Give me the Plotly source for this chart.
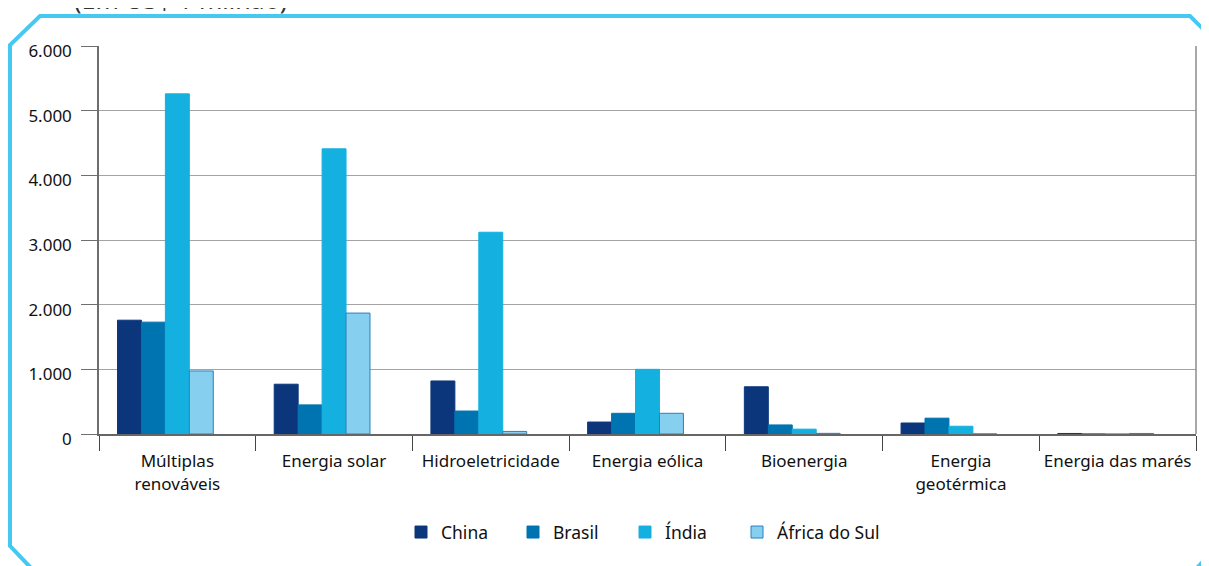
import plotly.graph_objects as go

# Data (Em US$ 1 milhão)
categories = ['Múltiplas<br>renováveis', 'Energia solar', 'Hidroeletricidade', 'Energia eólica',
              'Bioenergia', 'Energia<br>geotérmica', 'Energia das marés']
china = [1760, 770, 820, 185, 730, 170, 8]
brasil = [1730, 450, 355, 320, 140, 245, 0]
india = [5260, 4410, 3120, 1000, 75, 120, 0]
africa_sul = [975, 1870, 40, 320, 10, 0, 8]
y_ticks = [0, 1000, 2000, 3000, 4000, 5000, 6000]

# Layout config (pixels in the screenshot); the page body adds an 8px offset
OFF = 8
W, H = 1209 - OFF, 566 - OFF
L, R, T, B = 99, 1196, 46, 434
FRAME_COLOR = '#45c8f2'
FONT = 'Noto Sans'


def px(x, y):
    # screenshot pixel -> paper coords
    return (x - L) / (R - L), (B - y) / (B - T)


def path_from(points):
    parts = []
    for i, (x, y) in enumerate(points):
        xp, yp = px(x, y)
        parts.append(('M' if i == 0 else 'L') + f'{xp:.5f},{yp:.5f}')
    return ' '.join(parts)


fig = go.Figure()

series = [
    ('China', china, '#0b367c', '#0b367c'),
    ('Brasil', brasil, '#0073b1', '#0073b1'),
    ('Índia', india, '#14b1e0', '#14b1e0'),
    ('África do Sul', africa_sul, '#87cfee', '#2a80bf'),
]
for name, vals, col, lcol in series:
    fig.add_trace(go.Bar(
        x=categories, y=vals, name=name,
        marker=dict(color=col, line=dict(color=lcol, width=1)),
    ))

# empty fifth slot, like the original spreadsheet layout (also pads the legend)
fig.add_trace(go.Bar(x=categories, y=[None] * len(categories), name=' ',
                     marker=dict(color='rgba(0,0,0,0)', line=dict(width=0)),
                     hoverinfo='skip'))

leg_x, _ = px(401, 0)
fig.update_layout(
    width=W, height=H,
    margin=dict(l=L - OFF, r=W - (R - OFF), t=T - OFF, b=H - (B - OFF)),
    paper_bgcolor='white', plot_bgcolor='white',
    barmode='group', bargap=0.236, bargroupgap=0,
    separators=',.',
    font=dict(family=FONT, size=15, color='#111'),
    legend=dict(orientation='h', x=leg_x, xanchor='left', y=-0.253, yanchor='middle',
                entrywidth=67, font=dict(size=17.5)),
    xaxis=dict(
        showgrid=False, showline=True, linecolor='#666', linewidth=2,
        ticks='outside', tickson='boundaries', ticklen=15, tickcolor='#444', tickwidth=1,
        ticklabelstandoff=11, tickfont=dict(size=17),
    ),
    yaxis=dict(
        range=[0, 6000], tickvals=y_ticks, tickformat=',d',
        showgrid=True, gridcolor='#a3a3a3', gridwidth=1,
        showline=True, linecolor='#6e6e6e', linewidth=1.5,
        ticks='outside', ticklen=16, tickcolor='#6e6e6e', ticklabelstandoff=6,
        ticklabelshift=5, tickfont=dict(size=17), zeroline=False,
    ),
)

# right border of the plot area
fig.add_shape(type='line', xref='paper', yref='paper', x0=1, x1=1, y0=0, y1=1,
              line=dict(color='#8c8c8c', width=1.5))

# Frame
fig.add_shape(type='path', xref='paper', yref='paper',
              path=path_from([(33, 570), (10, 546), (10, 45), (40, 16), (1190, 16), (1213, 39)]),
              line=dict(color=FRAME_COLOR, width=4))
fig.add_shape(type='path', xref='paper', yref='paper',
              path=path_from([(1195, 570), (1213, 551)]),
              line=dict(color=FRAME_COLOR, width=4))

# partially visible subtitle at the very top
tx, ty = px(72, 18)
fig.add_annotation(text='(Em US$ 1 milhão)', xref='paper', yref='paper', x=tx, y=ty,
                   xanchor='left', yanchor='bottom', showarrow=False,
                   font=dict(size=25, color='#333'))

fig.write_html('out.html')
